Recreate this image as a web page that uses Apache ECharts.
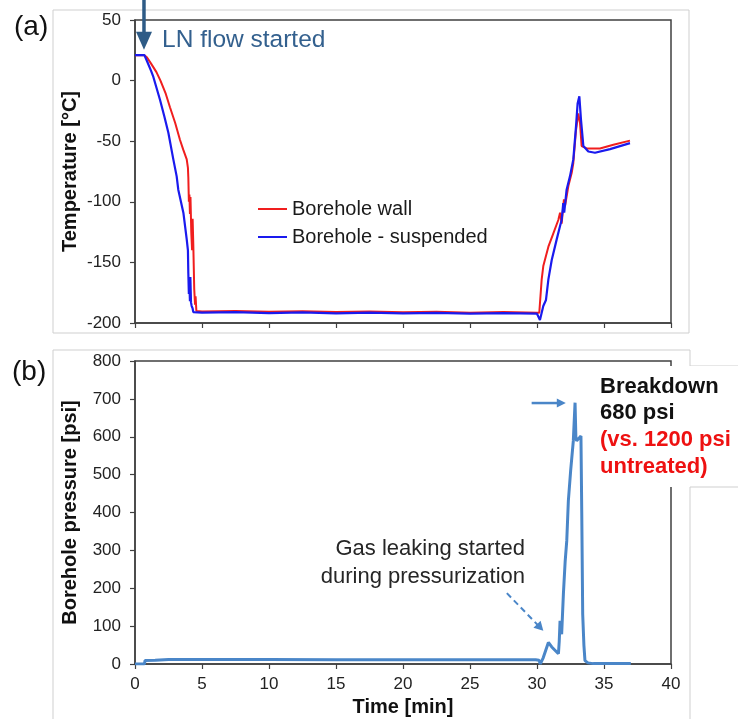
<!DOCTYPE html>
<html><head><meta charset="utf-8">
<script src="https://cdn.jsdelivr.net/npm/echarts@6/dist/echarts.min.js"></script>
<style>html,body{margin:0;padding:0;background:#fff}#c{width:738px;height:719px}</style>
</head><body><div id="c"></div>
<script>
// ---- Data ----
const xTicks = [0, 5, 10, 15, 20, 25, 30, 35, 40];
const tempTicks = [-200, -150, -100, -50, 0, 50];
const pressTicks = [0, 100, 200, 300, 400, 500, 600, 700, 800];

const redTime = [0, 0.7, 0.9, 1.2, 1.6, 1.9, 2.3, 2.61, 3.0, 3.36, 3.6, 3.86, 3.95, 3.98, 4.02, 4.06, 4.1, 4.14, 4.2, 4.26, 4.3, 4.35, 4.42, 4.48, 4.52, 4.58, 5, 7.5, 10, 12.5, 15, 17.5, 20, 22.5, 25, 27.5, 30, 30.17, 30.35, 30.47, 30.85, 31.22, 31.59, 31.72, 31.84, 32.01, 32.1, 32.34, 32.59, 32.71, 32.91, 33.08, 33.21, 33.33, 33.71, 34.7, 35.7, 36.94];
const redTemp = [21, 21, 19, 14, 7, 0, -11, -22, -35, -49, -57, -65, -72, -80, -100, -94, -110, -96, -125, -140, -114, -135, -172, -185, -178, -190, -190.5, -190, -190.8, -190.3, -191, -190.6, -191.2, -190.8, -191.5, -191, -191.6, -191.5, -164, -153, -137, -126, -115, -109, -118, -98, -103, -87, -76, -68, -41, -27, -35, -54, -56, -56, -53, -49.5];

const blueTime = [0, 0.7, 0.9, 1.2, 1.37, 1.87, 2.2, 2.49, 2.86, 3.11, 3.23, 3.61, 3.86, 3.95, 3.98, 4.02, 4.05, 4.1, 4.13, 4.18, 4.23, 4.3, 4.35, 5, 7.5, 10, 12.5, 15, 17.5, 20, 22.5, 25, 27.5, 30, 30.1, 30.22, 30.47, 30.67, 30.85, 31.1, 31.47, 31.72, 31.84, 31.96, 32.03, 32.21, 32.46, 32.71, 32.91, 33.03, 33.16, 33.28, 33.46, 33.83, 34.33, 35.45, 36.94];
const blueTemp = [21, 21, 16, 8, 3, -16, -30, -43, -65, -79, -90, -109, -131, -140, -159, -176, -165, -182, -162, -183, -186, -188, -191, -191.5, -191, -191.8, -191.2, -192, -191.5, -192, -191.6, -192.2, -191.8, -192.3, -192, -197.5, -186, -181, -164, -148, -131, -120, -115, -101, -109, -90, -79, -65, -38, -19, -13, -32, -54, -58.5, -59.5, -56.5, -51.6];

const pressTime = [0, 0.7, 0.75, 1.5, 2.5, 5, 10, 15, 20, 25, 29.9, 30.15, 30.25, 30.47, 30.85, 31.1, 31.6, 31.66, 31.72, 31.78, 31.84, 31.97, 32.1, 32.22, 32.34, 32.51, 32.71, 32.84, 32.9, 32.96, 33.1, 33.28, 33.34, 33.41, 33.5, 33.58, 33.8, 34.2, 37];
const pressVal = [0, 0, 9, 10, 12, 12, 12, 11, 11, 11, 11, 10, 0, 17, 57, 45, 27, 60, 114, 85, 79, 185, 270, 325, 431, 510, 589, 690, 600, 589, 595, 602, 400, 132, 50, 9, 3, 1, 1];

const seriesNames = ['Borehole wall', 'Borehole - suspended'];

// ---- Chart ----
const FONT = '"Liberation Sans", Arial, sans-serif';
const AXC = '#404040';
const chart = echarts.init(document.getElementById('c'), null, {renderer: 'canvas'});
const zip = (a, b) => a.map((v, i) => [v, b[i]]);

function xAx(gi, labels) {
  return {
    type: 'value', gridIndex: gi, min: xTicks[0], max: xTicks[xTicks.length - 1], interval: 5,
    axisLine: {show: true, onZero: false, lineStyle: {color: AXC, width: 1.5}},
    axisTick: {show: true, length: 5, lineStyle: {color: AXC, width: 1.2}},
    axisLabel: {show: labels, fontSize: 17, color: '#222', margin: 12, fontFamily: FONT},
    splitLine: {show: false}
  };
}
function yAx(gi, ticks, name) {
  return {
    type: 'value', gridIndex: gi, min: ticks[0], max: ticks[ticks.length - 1], interval: ticks[1] - ticks[0],
    axisLine: {show: true, onZero: false, lineStyle: {color: AXC, width: 1.5}},
    axisTick: {show: true, length: 5, lineStyle: {color: AXC, width: 1.2}},
    axisLabel: {fontSize: 17, color: '#222', margin: 14, fontFamily: FONT},
    splitLine: {show: false},
    name: name, nameLocation: 'middle', nameGap: 55, nameMoveOverlap: false,
    nameTextStyle: {fontSize: 20, fontWeight: 'bold', color: '#111', fontFamily: FONT}
  };
}
const xa1 = xAx(1, true);
xa1.name = 'Time [min]';
xa1.nameLocation = 'middle';
xa1.nameGap = 33;
xa1.nameMoveOverlap = false;
xa1.nameTextStyle = {fontSize: 20, fontWeight: 'bold', color: '#111', fontFamily: FONT};

chart.setOption({
  animation: false,
  backgroundColor: '#fff',
  textStyle: {fontFamily: FONT},
  grid: [
    {left: 135, top: 20, width: 536, height: 303, show: true, borderColor: AXC, borderWidth: 1.5, backgroundColor: '#fff'},
    {left: 135, top: 361, width: 536, height: 303, show: true, borderColor: AXC, borderWidth: 1.5, backgroundColor: '#fff'}
  ],
  xAxis: [xAx(0, false), xa1],
  yAxis: [yAx(0, tempTicks, 'Temperature [°C]'), yAx(1, pressTicks, 'Borehole pressure [psi]')],
  legend: {
    data: seriesNames, orient: 'vertical', left: 258, top: 199, padding: 0,
    icon: 'rect', itemWidth: 29, itemHeight: 2, itemGap: 8,
    textStyle: {fontSize: 20, color: '#1a1a1a', fontFamily: FONT}
  },
  series: [
    {type: 'line', name: seriesNames[0], xAxisIndex: 0, yAxisIndex: 0, data: zip(redTime, redTemp),
     symbol: 'none', showSymbol: false, lineStyle: {color: '#f01e1e', width: 2}, itemStyle: {color: '#f01e1e'}, z: 2},
    {type: 'line', name: seriesNames[1], xAxisIndex: 0, yAxisIndex: 0, data: zip(blueTime, blueTemp),
     symbol: 'none', showSymbol: false, lineStyle: {color: '#1a1aee', width: 2.2}, itemStyle: {color: '#1a1aee'}, z: 3},
    {type: 'line', name: 'Pressure', xAxisIndex: 1, yAxisIndex: 1, data: zip(pressTime, pressVal),
     symbol: 'none', showSymbol: false, lineStyle: {color: '#4a86c8', width: 3}, itemStyle: {color: '#4a86c8'}, z: 2}
  ]
});

// ---- Annotations ----
function arrow(p1, p2, color, width, headLen, headW, dashed) {
  const dx = p2[0] - p1[0], dy = p2[1] - p1[1];
  const L = Math.sqrt(dx * dx + dy * dy);
  const ux = dx / L, uy = dy / L, nx = -uy, ny = ux;
  const bx = p2[0] - ux * headLen, by = p2[1] - uy * headLen;
  return [
    {type: 'line', z: 110, shape: {x1: p1[0], y1: p1[1], x2: bx + ux, y2: by + uy},
     style: {stroke: color, lineWidth: width, lineDash: dashed ? [6, 4] : null}},
    {type: 'polygon', z: 110, shape: {points: [[p2[0], p2[1]], [bx + nx * headW / 2, by + ny * headW / 2], [bx - nx * headW / 2, by - ny * headW / 2]]},
     style: {fill: color}}
  ];
}
const g0 = {xAxisIndex: 0, yAxisIndex: 0};
const g1 = {xAxisIndex: 1, yAxisIndex: 1};
const lnTip = chart.convertToPixel(g0, [0.67, 25.5]);
const bdA = chart.convertToPixel(g1, [29.6, 689]);
const bdB = chart.convertToPixel(g1, [32.15, 689]);
const gsA = chart.convertToPixel(g1, [27.75, 187]);
const gsB = chart.convertToPixel(g1, [30.47, 88]);

const GRAY = '#cfcfcf';
const graphic = [
  // light panel frames of the source figure
  {type: 'rect', z: 1, shape: {x: 53, y: 10, width: 636, height: 323}, style: {fill: null, stroke: GRAY, lineWidth: 1}},
  {type: 'polyline', z: 1, shape: {points: [[53, 719], [53, 350], [690, 350], [690, 366], [738, 366]]}, style: {fill: null, stroke: GRAY, lineWidth: 1}},
  // white box around the breakdown note
  {type: 'rect', z: 100, shape: {x: 592, y: 366, width: 146, height: 121}, style: {fill: '#fff'}},
  {type: 'polyline', z: 101, shape: {points: [[738, 487], [690, 487], [690, 719]]}, style: {fill: null, stroke: GRAY, lineWidth: 1}},
  // panel labels
  {type: 'text', z: 110, left: 14, top: 13, style: {text: '(a)', fill: '#111', font: '28px ' + FONT}},
  {type: 'text', z: 110, left: 12, top: 358, style: {text: '(b)', fill: '#111', font: '28px ' + FONT}},
  // LN flow note
  {type: 'text', z: 110, x: 162, y: 40, style: {text: 'LN flow started', font: '24.5px ' + FONT, fill: '#33608e', verticalAlign: 'middle'}},
  // breakdown note
  {type: 'text', z: 110, x: 600, y: 387, style: {text: 'Breakdown', font: 'bold 22px ' + FONT, fill: '#111', verticalAlign: 'middle'}},
  {type: 'text', z: 110, x: 600, y: 413, style: {text: '680 psi', font: 'bold 22px ' + FONT, fill: '#111', verticalAlign: 'middle'}},
  {type: 'text', z: 110, x: 600, y: 440, style: {text: '(vs. 1200 psi', font: 'bold 22px ' + FONT, fill: '#ee1111', verticalAlign: 'middle'}},
  {type: 'text', z: 110, x: 600, y: 467, style: {text: 'untreated)', font: 'bold 22px ' + FONT, fill: '#ee1111', verticalAlign: 'middle'}},
  // gas leaking note
  {type: 'text', z: 110, x: 525, y: 549, style: {text: 'Gas leaking started', font: '22px ' + FONT, fill: '#262626', align: 'right', verticalAlign: 'middle'}},
  {type: 'text', z: 110, x: 525, y: 577, style: {text: 'during pressurization', font: '22px ' + FONT, fill: '#262626', align: 'right', verticalAlign: 'middle'}}
]
  .concat(arrow([lnTip[0], 0], lnTip, '#2e5b86', 3.5, 18, 16, false))
  .concat(arrow(bdA, bdB, '#4a86c8', 2.5, 9, 9, false))
  .concat(arrow(gsA, gsB, '#4a86c8', 2, 9, 10, true));

chart.setOption({graphic: graphic});
</script></body></html>
